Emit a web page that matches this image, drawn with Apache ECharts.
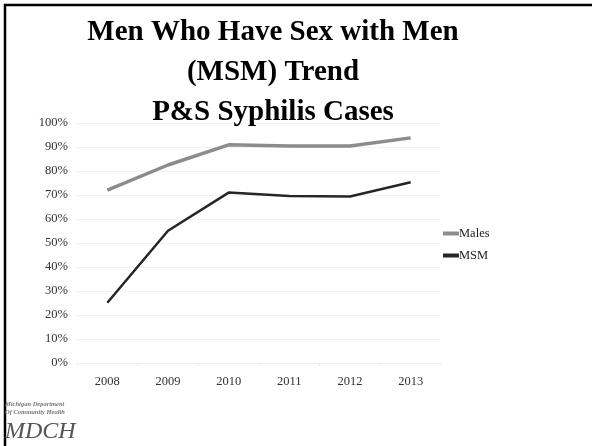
<!DOCTYPE html>
<html><head><meta charset="utf-8">
<script src="https://cdn.jsdelivr.net/npm/echarts@6/dist/echarts.min.js"></script>
<style>html,body{margin:0;padding:0;background:#fff}#c{width:592px;height:446px}</style>
</head><body><div id="c"></div>
<script>
const titleLines = ['Men Who Have Sex with Men', '(MSM) Trend', 'P&S Syphilis Cases'];
const years = ['2008', '2009', '2010', '2011', '2012', '2013'];
const males = [72.0, 82.5, 90.9, 90.4, 90.4, 93.8];
const msm = [25.1, 55.1, 71.0, 69.6, 69.4, 75.3];
const yTicks = [0, 10, 20, 30, 40, 50, 60, 70, 80, 90, 100];

const chart = echarts.init(document.getElementById('c'), null, {renderer: 'canvas'});
const serif = 'Liberation Serif';
chart.setOption({
  backgroundColor: '#fff',
  animation: false,
  title: {
    text: titleLines.join('\n'),
    left: 268, top: 8, textAlign: 'center',
    textStyle: {fontFamily: serif, fontWeight: 'bold', fontSize: 29, lineHeight: 40, color: '#000'}
  },
  legend: {
    orient: 'vertical', left: 443, top: 227, itemGap: 9, padding: 0,
    itemWidth: 16, itemHeight: 4, icon: 'rect',
    textStyle: {fontFamily: serif, fontSize: 12.5, color: '#222', padding: [0, 0, 0, -5]},
    data: ['Males', 'MSM']
  },
  grid: {left: 77, right: 151, top: 123, bottom: 83, containLabel: false},
  xAxis: {
    type: 'category', data: years, boundaryGap: true,
    axisLine: {lineStyle: {color: '#eeeeee'}},
    axisTick: {show: true, lineStyle: {color: '#eeeeee'}, length: 3},
    axisLabel: {fontFamily: serif, fontSize: 12.5, color: '#333', margin: 12}
  },
  yAxis: {
    type: 'value', min: 0, max: 100, interval: 10,
    axisLine: {show: false}, axisTick: {show: false},
    splitLine: {lineStyle: {color: '#f2f2f2'}},
    axisLabel: {fontFamily: serif, fontSize: 12.5, color: '#333', margin: 9,
      formatter: v => yTicks.includes(v) ? v + '%' : ''}
  },
  series: [
    {name: 'Males', type: 'line', data: males, symbol: 'none',
     lineStyle: {color: '#8c8c8c', width: 3.5}, itemStyle: {color: '#8c8c8c'}},
    {name: 'MSM', type: 'line', data: msm, symbol: 'none',
     lineStyle: {color: '#262626', width: 2.5}, itemStyle: {color: '#262626'}}
  ],
  graphic: [
    {type: 'rect', shape: {x: 5, y: 5, width: 600, height: 460},
     style: {fill: 'none', stroke: '#000', lineWidth: 2.5}, silent: true},
    {type: 'text', left: 5, top: 400,
     style: {text: 'Michigan Department\nOf Community Health', font: 'italic bold 6.5px "Liberation Serif"', fill: '#777', lineHeight: 8}},
    {type: 'text', left: 5, top: 420,
     style: {text: 'MDCH', font: 'italic 24px "Liberation Serif"', fill: '#555'}}
  ]
});
</script></body></html>
